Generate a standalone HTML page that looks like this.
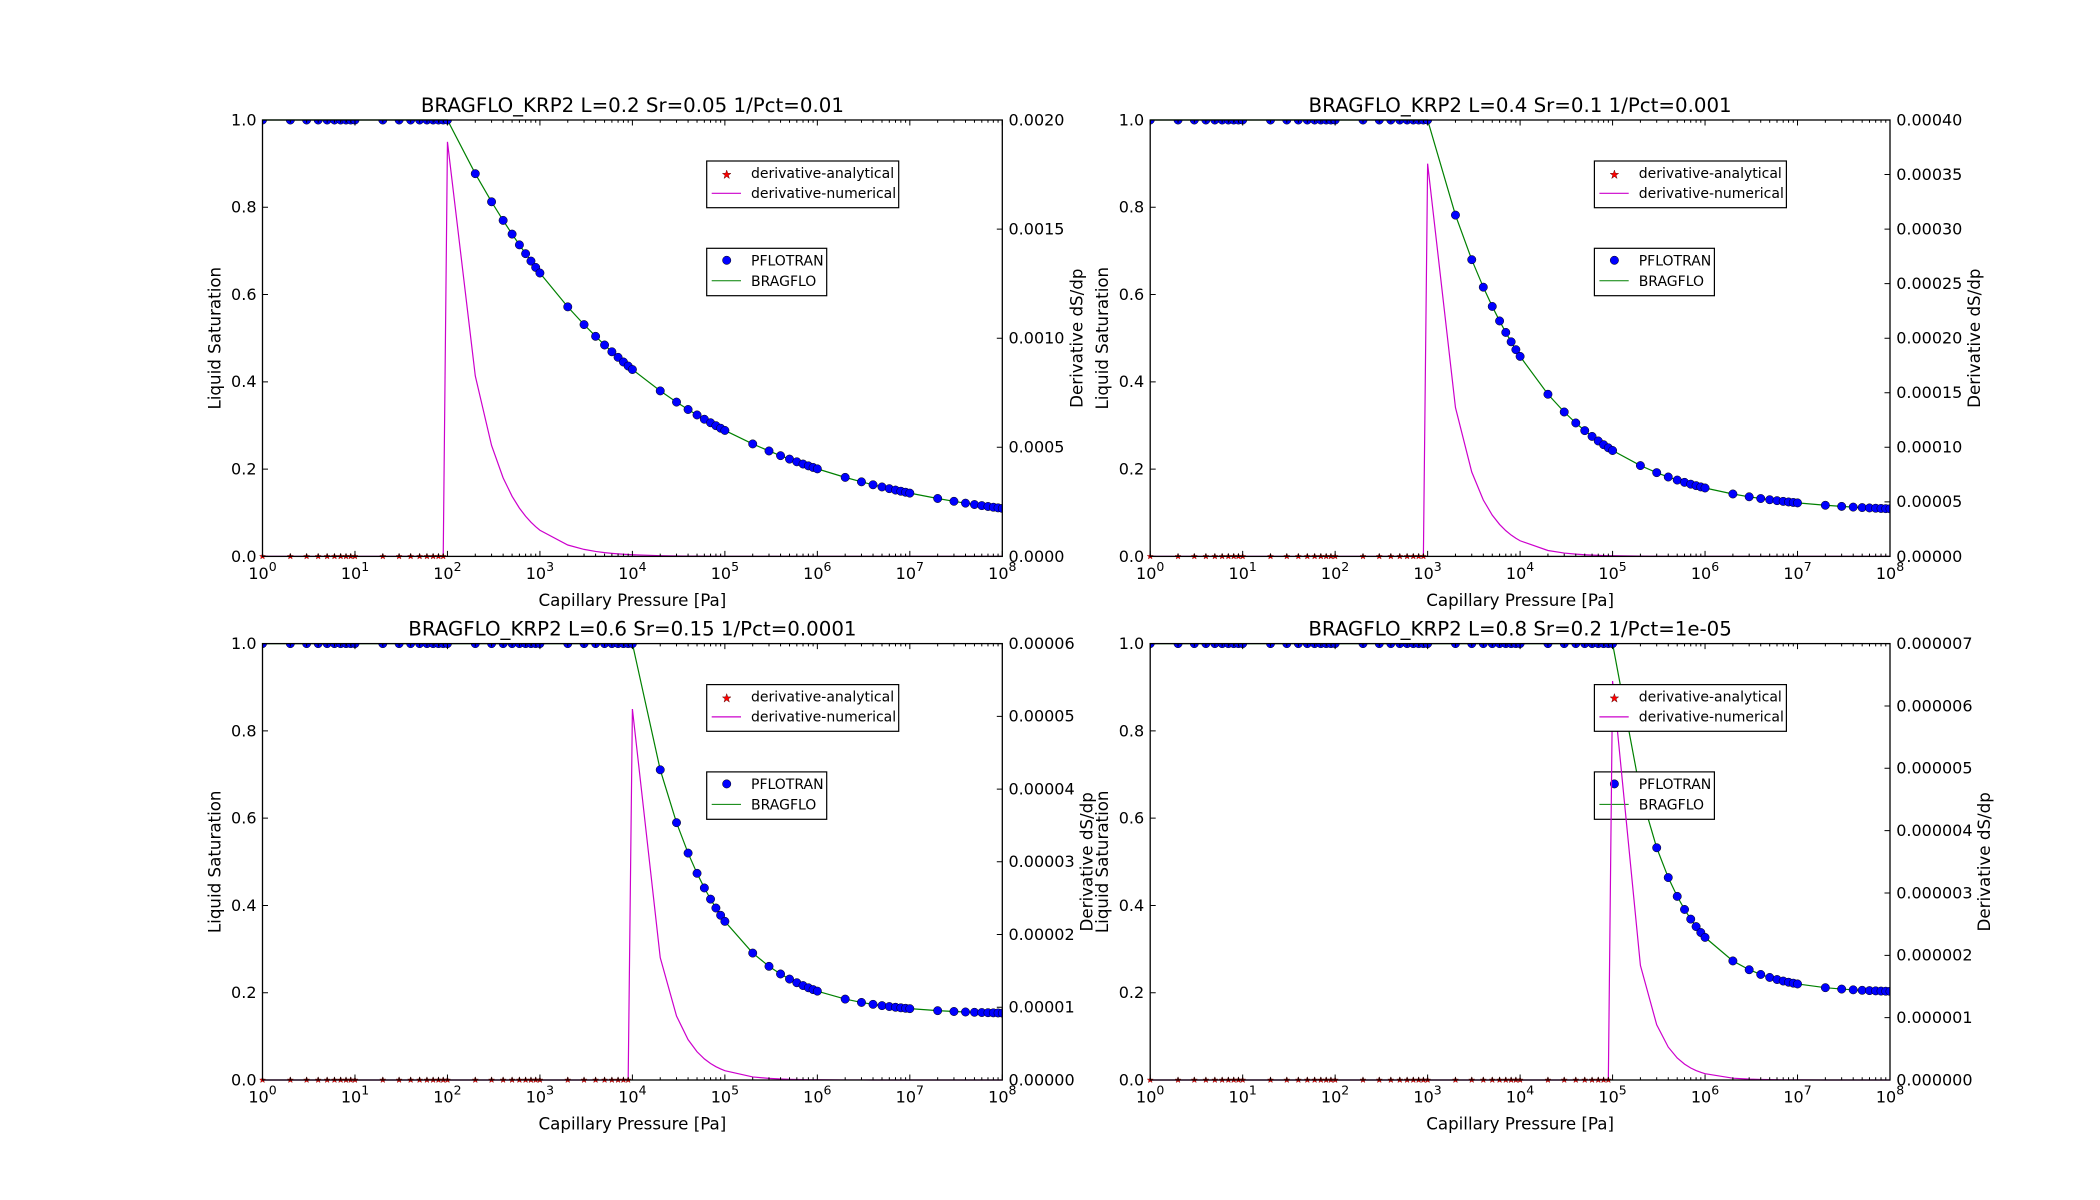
<!DOCTYPE html>
<html><head><meta charset="utf-8">
<style>
html,body{margin:0;padding:0;background:#fff;}
svg{display:block;}
text{font-family:"DejaVu Sans","Liberation Sans",sans-serif;fill:#000;}
.t{font-size:16px;}
.s{font-size:12.5px;}
.lab{font-size:16.7px;}
.ttl{font-size:19.8px;}
.lg{font-size:14px;}
</style></head><body>
<svg id="fig" width="2100" height="1200" viewBox="0 0 2100 1200" xmlns="http://www.w3.org/2000/svg">
<rect width="2100" height="1200" fill="#fff"/>

<g id="p0" transform="translate(262.5,120)">
<text class="ttl" x="369.9" y="-8" text-anchor="middle">BRAGFLO_KRP2 L=0.2 Sr=0.05 1/Pct=0.01</text>
<text class="lab" x="369.9" y="486" text-anchor="middle">Capillary Pressure [Pa]</text>
<text class="lab" transform="translate(-42,218.2) rotate(-90)" text-anchor="middle">Liquid Saturation</text>
<text class="lab" transform="translate(820,218.2) rotate(-90)" text-anchor="middle">Derivative dS/dp</text>
<g class="t" text-anchor="end"><text x="-6" y="441.8">0.0</text><text x="-6" y="354.5">0.2</text><text x="-6" y="267.2">0.4</text><text x="-6" y="180">0.6</text><text x="-6" y="92.7">0.8</text><text x="-6" y="5.4">1.0</text></g>
<g class="t"><text x="746" y="441.8">0.0000</text><text x="746" y="332.7">0.0005</text><text x="746" y="223.6">0.0010</text><text x="746" y="114.5">0.0015</text><text x="746" y="5.4">0.0020</text></g>
</g>

<g id="p1" transform="translate(1150.2,120)">
<text class="ttl" x="369.9" y="-8" text-anchor="middle">BRAGFLO_KRP2 L=0.4 Sr=0.1 1/Pct=0.001</text>
<text class="lab" x="369.9" y="486" text-anchor="middle">Capillary Pressure [Pa]</text>
<text class="lab" transform="translate(-42,218.2) rotate(-90)" text-anchor="middle">Liquid Saturation</text>
<text class="lab" transform="translate(830,218.2) rotate(-90)" text-anchor="middle">Derivative dS/dp</text>
<g class="t" text-anchor="end"><text x="-6" y="441.8">0.0</text><text x="-6" y="354.5">0.2</text><text x="-6" y="267.2">0.4</text><text x="-6" y="180">0.6</text><text x="-6" y="92.7">0.8</text><text x="-6" y="5.4">1.0</text></g>
<g class="t"><text x="746" y="441.8">0.00000</text><text x="746" y="387.2">0.00005</text><text x="746" y="332.7">0.00010</text><text x="746" y="278.1">0.00015</text><text x="746" y="223.6">0.00020</text><text x="746" y="169">0.00025</text><text x="746" y="114.5">0.00030</text><text x="746" y="59.9">0.00035</text><text x="746" y="5.4">0.00040</text></g>
</g>

<g id="p2" transform="translate(262.5,643.6)">
<text class="ttl" x="369.9" y="-8" text-anchor="middle">BRAGFLO_KRP2 L=0.6 Sr=0.15 1/Pct=0.0001</text>
<text class="lab" x="369.9" y="486" text-anchor="middle">Capillary Pressure [Pa]</text>
<text class="lab" transform="translate(-42,218.2) rotate(-90)" text-anchor="middle">Liquid Saturation</text>
<text class="lab" transform="translate(830,218.2) rotate(-90)" text-anchor="middle">Derivative dS/dp</text>
<g class="t" text-anchor="end"><text x="-6" y="441.8">0.0</text><text x="-6" y="354.5">0.2</text><text x="-6" y="267.2">0.4</text><text x="-6" y="180">0.6</text><text x="-6" y="92.7">0.8</text><text x="-6" y="5.4">1.0</text></g>
<g class="t"><text x="746" y="441.8">0.00000</text><text x="746" y="369">0.00001</text><text x="746" y="296.3">0.00002</text><text x="746" y="223.6">0.00003</text><text x="746" y="150.8">0.00004</text><text x="746" y="78.1">0.00005</text><text x="746" y="5.4">0.00006</text></g>
</g>

<g id="p3" transform="translate(1150.2,643.6)">
<text class="ttl" x="369.9" y="-8" text-anchor="middle">BRAGFLO_KRP2 L=0.8 Sr=0.2 1/Pct=1e-05</text>
<text class="lab" x="369.9" y="486" text-anchor="middle">Capillary Pressure [Pa]</text>
<text class="lab" transform="translate(-42,218.2) rotate(-90)" text-anchor="middle">Liquid Saturation</text>
<text class="lab" transform="translate(840,218.2) rotate(-90)" text-anchor="middle">Derivative dS/dp</text>
<g class="t" text-anchor="end"><text x="-6" y="441.8">0.0</text><text x="-6" y="354.5">0.2</text><text x="-6" y="267.2">0.4</text><text x="-6" y="180">0.6</text><text x="-6" y="92.7">0.8</text><text x="-6" y="5.4">1.0</text></g>
<g class="t"><text x="746" y="441.8">0.000000</text><text x="746" y="379.5">0.000001</text><text x="746" y="317.1">0.000002</text><text x="746" y="254.8">0.000003</text><text x="746" y="192.4">0.000004</text><text x="746" y="130.1">0.000005</text><text x="746" y="67.7">0.000006</text><text x="746" y="5.4">0.000007</text></g>
</g>

<g transform="translate(262.5,120)" class="t" text-anchor="middle">
<text x="0" y="459">10<tspan class="s" dy="-8">0</tspan></text><text x="92.5" y="459">10<tspan class="s" dy="-8">1</tspan></text><text x="184.9" y="459">10<tspan class="s" dy="-8">2</tspan></text><text x="277.4" y="459">10<tspan class="s" dy="-8">3</tspan></text><text x="369.9" y="459">10<tspan class="s" dy="-8">4</tspan></text><text x="462.4" y="459">10<tspan class="s" dy="-8">5</tspan></text><text x="554.8" y="459">10<tspan class="s" dy="-8">6</tspan></text><text x="647.3" y="459">10<tspan class="s" dy="-8">7</tspan></text><text x="739.8" y="459">10<tspan class="s" dy="-8">8</tspan></text>
</g>
<g transform="translate(1150.2,120)" class="t" text-anchor="middle">
<text x="0" y="459">10<tspan class="s" dy="-8">0</tspan></text><text x="92.5" y="459">10<tspan class="s" dy="-8">1</tspan></text><text x="184.9" y="459">10<tspan class="s" dy="-8">2</tspan></text><text x="277.4" y="459">10<tspan class="s" dy="-8">3</tspan></text><text x="369.9" y="459">10<tspan class="s" dy="-8">4</tspan></text><text x="462.4" y="459">10<tspan class="s" dy="-8">5</tspan></text><text x="554.8" y="459">10<tspan class="s" dy="-8">6</tspan></text><text x="647.3" y="459">10<tspan class="s" dy="-8">7</tspan></text><text x="739.8" y="459">10<tspan class="s" dy="-8">8</tspan></text>
</g>
<g transform="translate(262.5,643.6)" class="t" text-anchor="middle">
<text x="0" y="459">10<tspan class="s" dy="-8">0</tspan></text><text x="92.5" y="459">10<tspan class="s" dy="-8">1</tspan></text><text x="184.9" y="459">10<tspan class="s" dy="-8">2</tspan></text><text x="277.4" y="459">10<tspan class="s" dy="-8">3</tspan></text><text x="369.9" y="459">10<tspan class="s" dy="-8">4</tspan></text><text x="462.4" y="459">10<tspan class="s" dy="-8">5</tspan></text><text x="554.8" y="459">10<tspan class="s" dy="-8">6</tspan></text><text x="647.3" y="459">10<tspan class="s" dy="-8">7</tspan></text><text x="739.8" y="459">10<tspan class="s" dy="-8">8</tspan></text>
</g>
<g transform="translate(1150.2,643.6)" class="t" text-anchor="middle">
<text x="0" y="459">10<tspan class="s" dy="-8">0</tspan></text><text x="92.5" y="459">10<tspan class="s" dy="-8">1</tspan></text><text x="184.9" y="459">10<tspan class="s" dy="-8">2</tspan></text><text x="277.4" y="459">10<tspan class="s" dy="-8">3</tspan></text><text x="369.9" y="459">10<tspan class="s" dy="-8">4</tspan></text><text x="462.4" y="459">10<tspan class="s" dy="-8">5</tspan></text><text x="554.8" y="459">10<tspan class="s" dy="-8">6</tspan></text><text x="647.3" y="459">10<tspan class="s" dy="-8">7</tspan></text><text x="739.8" y="459">10<tspan class="s" dy="-8">8</tspan></text>
</g>

<g id="L2_0" transform="translate(706.7,248.3)"><rect width="120" height="47.4" fill="#fff" stroke="#000" stroke-width="1.2"/><circle cx="20" cy="12" r="4.2" fill="#0000ff" stroke="#000" stroke-width="0.5"/><line x1="5" y1="32.5" x2="34.3" y2="32.5" stroke="#008000" stroke-width="1"/><text class="lg" x="44.3" y="17">PFLOTRAN</text><text class="lg" x="44.3" y="37.5">BRAGFLO</text></g>
<g id="L2_1" transform="translate(1594.4,248.3)"><rect width="120" height="47.4" fill="#fff" stroke="#000" stroke-width="1.2"/><circle cx="20" cy="12" r="4.2" fill="#0000ff" stroke="#000" stroke-width="0.5"/><line x1="5" y1="32.5" x2="34.3" y2="32.5" stroke="#008000" stroke-width="1"/><text class="lg" x="44.3" y="17">PFLOTRAN</text><text class="lg" x="44.3" y="37.5">BRAGFLO</text></g>
<g id="L2_2" transform="translate(706.7,771.9)"><rect width="120" height="47.4" fill="#fff" stroke="#000" stroke-width="1.2"/><circle cx="20" cy="12" r="4.2" fill="#0000ff" stroke="#000" stroke-width="0.5"/><line x1="5" y1="32.5" x2="34.3" y2="32.5" stroke="#008000" stroke-width="1"/><text class="lg" x="44.3" y="17">PFLOTRAN</text><text class="lg" x="44.3" y="37.5">BRAGFLO</text></g>
<g id="L2_3" transform="translate(1594.4,771.9)"><rect width="120" height="47.4" fill="#fff" stroke="#000" stroke-width="1.2"/><circle cx="20" cy="12" r="4.2" fill="#0000ff" stroke="#000" stroke-width="0.5"/><line x1="5" y1="32.5" x2="34.3" y2="32.5" stroke="#008000" stroke-width="1"/><text class="lg" x="44.3" y="17">PFLOTRAN</text><text class="lg" x="44.3" y="37.5">BRAGFLO</text></g>

<g id="L1_0" transform="translate(706.7,161)"><rect width="192" height="46.7" fill="#fff" stroke="#000" stroke-width="1.2"/><polygon points="20,9 21.1,12.3 24.3,12.3 21.7,14.3 22.7,17.5 20,15.5 17.3,17.5 18.3,14.3 15.7,12.3 18.9,12.3" fill="#ff0000" stroke="#400" stroke-width="0.4"/><line x1="5" y1="32.3" x2="34.3" y2="32.3" stroke="#cc00cc" stroke-width="1.2"/><text class="lg" x="44.3" y="17">derivative-analytical</text><text class="lg" x="44.3" y="37">derivative-numerical</text></g>
<g id="L1_1" transform="translate(1594.4,161)"><rect width="192" height="46.7" fill="#fff" stroke="#000" stroke-width="1.2"/><polygon points="20,9 21.1,12.3 24.3,12.3 21.7,14.3 22.7,17.5 20,15.5 17.3,17.5 18.3,14.3 15.7,12.3 18.9,12.3" fill="#ff0000" stroke="#400" stroke-width="0.4"/><line x1="5" y1="32.3" x2="34.3" y2="32.3" stroke="#cc00cc" stroke-width="1.2"/><text class="lg" x="44.3" y="17">derivative-analytical</text><text class="lg" x="44.3" y="37">derivative-numerical</text></g>
<g id="L1_2" transform="translate(706.7,684.6)"><rect width="192" height="46.7" fill="#fff" stroke="#000" stroke-width="1.2"/><polygon points="20,9 21.1,12.3 24.3,12.3 21.7,14.3 22.7,17.5 20,15.5 17.3,17.5 18.3,14.3 15.7,12.3 18.9,12.3" fill="#ff0000" stroke="#400" stroke-width="0.4"/><line x1="5" y1="32.3" x2="34.3" y2="32.3" stroke="#cc00cc" stroke-width="1.2"/><text class="lg" x="44.3" y="17">derivative-analytical</text><text class="lg" x="44.3" y="37">derivative-numerical</text></g>
<g id="L1_3" transform="translate(1594.4,684.6)"><rect width="192" height="46.7" fill="#fff" stroke="#000" stroke-width="1.2"/><polygon points="20,9 21.1,12.3 24.3,12.3 21.7,14.3 22.7,17.5 20,15.5 17.3,17.5 18.3,14.3 15.7,12.3 18.9,12.3" fill="#ff0000" stroke="#400" stroke-width="0.4"/><line x1="5" y1="32.3" x2="34.3" y2="32.3" stroke="#cc00cc" stroke-width="1.2"/><text class="lg" x="44.3" y="17">derivative-analytical</text><text class="lg" x="44.3" y="37">derivative-numerical</text></g>
</svg>
<script>
(function(){
var NS="http://www.w3.org/2000/svg",W=739.8,H=436.4;
var P=[{L:0.2,Sr:0.05,Pct:1e2,dmax:0.002,nt:4},{L:0.4,Sr:0.1,Pct:1e3,dmax:0.0004,nt:8},{L:0.6,Sr:0.15,Pct:1e4,dmax:0.00006,nt:6},{L:0.8,Sr:0.2,Pct:1e5,dmax:0.000007,nt:7}];
var O=[[262.5,120],[1150.2,120],[262.5,643.6],[1150.2,643.6]];
var xs=[];for(var n=0;n<8;n++)for(var k=1;k<10;k++)xs.push(k*Math.pow(10,n));xs.push(1e8);
function el(t,a,p){var e=document.createElementNS(NS,t);for(var q in a)e.setAttribute(q,a[q]);p.appendChild(e);return e;}
var svg=document.getElementById('fig');
for(var i=0;i<4;i++){
 var p=P[i],o=O[i];
 var g1=el('g',{transform:'translate('+o[0]+','+o[1]+')'},svg);
 svg.insertBefore(g1,document.getElementById('L2_'+i));
 var X=function(x){return W*Math.log10(x)/8;};
 var S=function(x){return x<=p.Pct?1:p.Sr+(1-p.Sr)*Math.pow(p.Pct/x,p.L);};
 var D=function(x){return x<p.Pct?0:(1-p.Sr)*p.L*Math.pow(p.Pct/x,p.L)/x;};
 var cp=el('clipPath',{id:'c'+i},g1);el('rect',{x:0,y:0,width:W,height:H},cp);
 var pts=xs.map(function(x){return X(x).toFixed(2)+','+(H*(1-S(x))).toFixed(2);}).join(' ');
 el('polyline',{points:pts,fill:'none',stroke:'#008000','stroke-width':1.2},g1);
 var dg=el('g',{'clip-path':'url(#c'+i+')'},g1);
 xs.forEach(function(x){el('circle',{cx:X(x).toFixed(2),cy:(H*(1-S(x))).toFixed(2),r:4.2,fill:'#0000ff',stroke:'#000','stroke-width':0.5},dg);});
 var g2=el('g',{transform:'translate('+o[0]+','+o[1]+')'},svg);
 svg.insertBefore(g2,document.getElementById('L1_0'));
 var dp=xs.map(function(x){return X(x).toFixed(2)+','+(H*(1-D(x)/p.dmax)).toFixed(2);}).join(' ');
 el('polyline',{points:dp,fill:'none',stroke:'#cc00cc','stroke-width':1.2},g2);
 xs.forEach(function(x){if(x<p.Pct){var cx=X(x),cy=H;
  el('polygon',{points:[[0,-3.2],[0.9,-1],[3,-1],[1.4,0.4],[1.9,2.6],[0,1.3],[-1.9,2.6],[-1.4,0.4],[-3,-1],[-0.9,-1]].map(function(q){return (cx+q[0]).toFixed(2)+','+(cy+q[1]).toFixed(2);}).join(' '),fill:'#ff0000',stroke:'#500','stroke-width':0.3},g2);}});
 el('rect',{x:0,y:0,width:W,height:H,fill:'none',stroke:'#000','stroke-width':1.3},g2);
 var tk='';
 for(var n=0;n<=8;n++){var x=W*n/8;tk+='M'+x+' '+H+'v-5.5M'+x+' 0v5.5';
  if(n<8)for(var k=2;k<10;k++){var xm=W*(n+Math.log10(k))/8;tk+='M'+xm+' '+H+'v-2.8M'+xm+' 0v2.8';}}
 for(var j=0;j<=5;j++){var y=H*j/5;tk+='M0 '+y+'h5.5';}
 for(var j=0;j<=p.nt;j++){var y=H*j/p.nt;tk+='M'+W+' '+y+'h-5.5';}
 el('path',{d:tk,stroke:'#000','stroke-width':1,fill:'none'},g2);
}
})();
</script>
</body></html>
